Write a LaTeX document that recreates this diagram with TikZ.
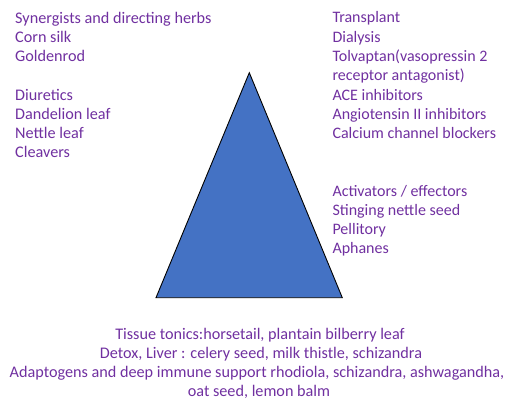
\documentclass[tikz,border=0pt]{standalone}
\usepackage{fontspec}
\setmainfont{Carlito}
\definecolor{txtpurple}{HTML}{7030A0}
\definecolor{triblue}{HTML}{4472C4}
\begin{document}
\begin{tikzpicture}[x=1pt,y=-1pt,
  llbl/.style={anchor=base west,inner sep=0pt,text=txtpurple,font=\fontsize{16.2}{19}\selectfont},
  rlbl/.style={anchor=base west,inner sep=0pt,text=txtpurple,font=\fontsize{16.0}{19}\selectfont},
  clbl/.style={anchor=base,inner sep=0pt,text=txtpurple,font=\fontsize{16.2}{19}\selectfont},
  tri/.style={fill=triblue,draw=black,line width=0.9pt,line join=miter}]
\useasboundingbox (0,0) rectangle (512,400);
% triangle
\coordinate (apex) at (249.3,72.7);
\coordinate (bl) at (156,297.7);
\coordinate (br) at (342.3,297.7);
\draw[tri] (apex) -- (br) -- (bl) -- cycle;
% left column
\node[llbl] (l1) at (15,23.3) {Synergists and directing herbs};
\node[llbl] (l2) at (15,42.6) {Corn silk};
\node[llbl] (l3) at (15,61.9) {Goldenrod};
\node[llbl] (l4) at (15,100.2) {Diuretics};
\node[llbl] (l5) at (15,119.4) {Dandelion leaf};
\node[llbl] (l6) at (15,138.6) {Nettle leaf};
\node[llbl] (l7) at (15,157.8) {Cleavers};
% right column
\node[rlbl] (r1) at (332.3,22.7) {Transplant};
\node[rlbl] (r2) at (332.3,42) {Dialysis};
\node[rlbl] (r3) at (332.3,61.4) {Tolvaptan(vasopressin 2};
\node[rlbl] (r4) at (332.3,80.7) {receptor antagonist)};
\node[rlbl] (r5) at (332.3,100) {ACE inhibitors};
\node[rlbl] (r6) at (332.3,119.3) {Angiotensin II inhibitors};
\node[rlbl] (r7) at (332.3,138.6) {Calcium channel blockers};
\node[rlbl] (r8) at (332.3,196) {Activators / effectors};
\node[rlbl] (r9) at (332.3,215.3) {Stinging nettle seed};
\node[rlbl] (r10) at (332.3,234.6) {Pellitory};
\node[rlbl] (r11) at (332.3,253.9) {Aphanes};
% bottom
\node[clbl] (b1) at (260,339.5) {Tissue tonics:horsetail, plantain bilberry leaf};
\node[clbl] (b2) at (261,358.6) {Detox, Liver : celery seed, milk thistle, schizandra};
\node[clbl] (b3) at (257,377.7) {Adaptogens and deep immune support rhodiola, schizandra, ashwagandha,};
\node[clbl] (b4) at (259,396.6) {oat seed, lemon balm};
\end{tikzpicture}
\end{document}
